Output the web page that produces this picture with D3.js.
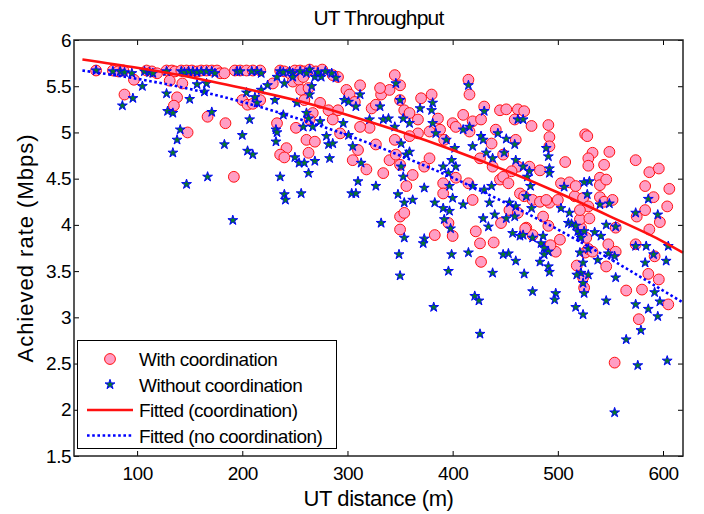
<!DOCTYPE html>
<html>
<head>
<meta charset="utf-8">
<script src="https://cdn.jsdelivr.net/npm/d3@7/dist/d3.min.js"></script>
<style>
  body { margin: 0; background: #fff; }
  svg { display: block; }
  text { font-family: "Liberation Sans", Arial, sans-serif; fill: #000; }
</style>
</head>
<body>
<svg id="chart" width="704" height="514"></svg>
<script>
// Valeurs : [distance (m), débit (Mbps)]
const withCoord = [
  // plateau haut
  [61,5.67],[77,5.67],[82,5.66],[87,5.67],[109,5.67],[114,5.66],[119,5.64],[128,5.67],[133,5.67],[136,5.66],
  [142,5.67],[147,5.67],[152,5.67],[157,5.66],[161,5.67],[166,5.67],[171,5.67],[176,5.67],[179,5.64],[183,5.64],
  [193,5.67],[198,5.67],[204,5.67],[210,5.67],[217,5.67],[236,5.67],[240,5.66],[245,5.64],[250,5.67],[255,5.67],
  // x < 255
  [88,5.41],[97,5.57],[131,5.56],[143,5.53],[138,5.38],[135,5.29],[148,5.00],[167,5.17],[184,5.10],[192,4.52],
  [200,5.35],[205,5.30],[210,5.31],[217,5.35],[233,5.10],[242,4.83],[236,4.76],[240,4.73],[229,5.53],[248,5.55],
  [254,5.57],[251,5.05],
  // 255 - 445
  [259,5.66],[264,5.68],[270,5.66],[276,5.68],[258,5.60],[256,5.46],[263,5.48],[259,5.35],[274,5.32],[267,5.21],
  [264,5.14],[282,5.24],[291,5.24],[286,5.14],[261,4.92],[269,4.90],[263,4.78],[291,5.60],[299,5.46],[302,5.41],
  [312,5.51],[307,5.33],[323,5.26],[327,5.30],[332,5.41],[340,5.46],[345,5.62],[350,5.51],[350,5.35],[354,5.24],
  [359,5.21],[367,5.14],[370,5.37],[380,5.41],[378,5.01],[386,5.15],[388,5.03],[392,4.92],[400,5.10],[403,5.06],
  [410,5.19],[416,5.01],[419,5.12],[415,5.57],[416,5.41],[427,5.14],[430,5.28],[437,4.88],[441,5.03],[445,5.24],
  [305,4.70],[327,4.87],[340,4.70],[350,4.65],[334,4.56],[346,4.76],[362,4.54],[373,4.63],[378,4.72],[391,4.45],
  [403,4.51],[415,4.45],[419,4.27],[391,4.34],[426,4.72],[438,4.63],[445,4.49],[350,4.09],[354,4.13],[356,4.42],
  [367,4.99],[359,4.96],[345,4.92],[321,5.05],[312,5.06],[293,4.99],[310,4.81],[318,4.60],[331,5.48],[286,5.62],
  [350,3.95],[383,3.89],[400,3.88],[396,4.02],[422,3.93],[426,3.80],[439,3.81],[427,3.60],
  // x > 445
  [451,5.25],[462,5.25],[468,5.23],[459,5.14],[475,5.07],[491,5.08],[492,4.95],[492,4.85],[526,4.98],[528,4.96],
  [533,4.78],[529,4.72],[529,4.64],[549,4.79],[544,4.65],[540,4.51],[507,4.68],[574,4.70],[587,4.57],[596,4.61],
  [606,4.39],[583,4.42],[591,4.30],[583,4.16],[604,4.20],[597,4.03],[575,4.09],[587,3.95],[548,3.79],[555,3.71],
  [574,3.79],[592,3.66],[586,3.47],[596,3.41],[605,3.14],[565,3.29],[580,3.30],[577,2.98],[546,3.55],[518,3.56],
  [524,3.43],[525,3.32],[526,3.70],[522,3.97],[521,4.06],[529,3.74],[502,3.84],[498,3.71],[493,3.78],[470,3.97],
  [476,3.89],[491,3.99],[492,4.24],[500,4.27],[486,4.09],[503,4.45],[511,4.46],[483,4.59],[473,4.63],[462,4.63],
  [456,4.58],[448,4.52],[453,4.45],[464,4.34],[468,4.31],[476,4.27],[483,4.25],[489,4.27],[454,4.16],[446,4.02],
  [516,4.31],[524,4.29],[529,4.20],[540,4.30],[544,4.25],[552,4.27],[555,3.97],[521,4.16],[530,4.07],[517,4.42],
  [540,4.43],[546,4.49],[533,3.71],[527,3.86],[554,2.51],[462,4.13],[469,3.96],[460,4.92],[448,4.76]
];

const withoutCoord = [
  // plateau haut
  [61,5.67],[77,5.66],[84,5.66],[88,5.65],[95,5.64],[107,5.66],[112,5.65],[115,5.64],[128,5.66],[142,5.66],
  [145,5.65],[149,5.66],[153,5.66],[157,5.65],[161,5.66],[166,5.66],[171,5.66],[174,5.64],[195,5.66],[198,5.66],
  [209,5.66],[214,5.66],[218,5.64],[236,5.66],[239,5.65],[245,5.66],[248,5.64],[255,5.66],
  // x < 255
  [86,5.29],[96,5.37],[105,5.50],[128,5.42],[129,5.23],[134,5.21],[141,5.03],[138,4.92],[134,4.78],[150,5.36],
  [147,4.44],[157,5.52],[166,5.53],[164,5.44],[167,4.52],[171,5.22],[183,4.87],[191,4.05],[200,4.97],[204,5.43],
  [205,4.80],[210,4.76],[207,5.14],[212,5.38],[214,5.32],[218,5.46],[224,5.51],[231,5.35],[232,5.03],[233,5.00],
  [232,4.90],[236,4.52],[240,4.33],[241,4.27],[239,5.19],[250,4.73],[254,4.67],[252,5.32],[233,5.60],[240,5.53],
  [248,5.60],
  // 255 - 445
  [264,5.68],[261,5.64],[269,5.60],[266,5.50],[275,5.60],[272,5.65],[279,5.66],[285,5.64],[264,5.41],[261,5.21],
  [263,5.15],[258,5.06],[267,5.06],[274,5.12],[280,4.96],[282,4.87],[286,4.88],[283,4.72],[269,4.69],[259,4.67],
  [263,4.56],[256,4.34],[289,5.59],[297,5.35],[301,5.33],[308,5.28],[312,5.41],[296,5.10],[301,4.97],[305,4.85],
  [313,4.67],[321,5.14],[331,5.28],[334,5.14],[339,5.15],[345,5.06],[350,5.35],[353,5.15],[359,5.10],[346,5.53],
  [351,4.88],[356,4.76],[359,4.79],[353,4.52],[351,4.63],[369,5.26],[381,5.32],[380,5.24],[381,5.10],[384,4.99],
  [394,4.92],[402,4.83],[399,4.70],[391,4.63],[396,4.56],[397,4.42],[403,4.63],[410,5.03],[416,5.06],[419,4.85],
  [427,4.96],[430,5.23],[419,4.42],[429,4.92],[432,4.78],[438,4.72],[443,4.99],[437,4.42],[430,4.38],[429,4.07],
  [435,4.24],[415,5.51],[327,4.42],[304,4.34],[308,4.34],[310,4.47],[348,4.33],[354,4.24],[362,4.27],[373,4.40],
  [383,4.24],[391,4.18],[397,4.15],[400,4.29],[410,4.22],[332,4.02],[392,4.06],[398,3.96],[354,3.86],[373,3.85],
  [372,3.80],[349,3.68],[350,3.45],[399,3.68],[396,3.50],[415,3.70],[434,3.98],[438,3.48],[421,3.23],[425,3.18],
  [382,3.11],[426,2.82],[440,4.11],
  // x > 445
  [462,5.14],[467,5.14],[451,4.93],[459,4.87],[449,4.78],[460,4.70],[467,4.63],[473,4.58],[471,4.52],[474,4.42],
  [489,4.83],[491,4.74],[492,4.61],[492,4.56],[470,4.31],[475,4.18],[460,4.20],[454,4.24],[451,4.07],[459,4.09],
  [457,3.91],[464,3.88],[467,3.89],[476,3.86],[484,3.80],[486,3.88],[487,3.75],[491,3.71],[487,3.68],[483,3.60],
  [491,3.55],[492,3.49],[460,3.61],[468,3.47],[476,3.28],[453,3.69],[448,3.68],[498,3.26],[497,3.19],
  [530,4.47],[525,4.46],[528,4.33],[506,4.41],[503,4.18],[511,4.13],[540,4.22],[549,4.23],[555,3.98],[546,4.00],
  [519,3.93],[521,3.89],[525,3.93],[522,3.86],[521,3.70],[524,3.59],[522,3.48],[529,3.46],[524,3.37],[525,3.26],
  [518,3.46],[538,3.62],[548,3.69],[554,3.66],[555,3.43],[546,3.18],[517,3.11],[524,3.03],[574,4.13],[574,3.77],
  [584,3.77],[591,3.68],[586,4.28],[595,4.11],[603,3.61],[583,3.59],[574,3.14],[586,3.09],[595,3.01],[592,3.27],
  [597,3.17],[579,2.86],[565,2.76],[605,3.77],[535,3.92],[541,3.88],[529,3.74],[510,4.02],[513,4.01],[517,3.99],
  [576,2.48],[604,2.53],[554,1.97]
];

// Courbes ajustées
const fitDist = [48, 100, 150, 200, 250, 300, 350, 400, 450, 500, 550, 600, 619];
const fitCoord = [5.79, 5.70, 5.60, 5.48, 5.35, 5.19, 5.01, 4.81, 4.59, 4.35, 4.09, 3.82, 3.70];
const fitNoCoord = [5.67, 5.58, 5.47, 5.33, 5.16, 4.97, 4.75, 4.51, 4.24, 3.95, 3.63, 3.29, 3.16];

const xTicks = [100, 200, 300, 400, 500, 600];
const yTicks = [1.5, 2, 2.5, 3, 3.5, 4, 4.5, 5, 5.5, 6];
const legendLabels = ["With coordination", "Without coordination", "Fitted (coordination)", "Fitted (no coordination)"];

const svg = d3.select("#chart");
const x = d3.scaleLinear().domain([40, 619]).range([74, 683]);
const y = d3.scaleLinear().domain([1.5, 6]).range([456, 40]);

const pink = "#ff9ec4", red = "#ff1010", blue = "#0000ff", green = "#0a7a2a";
const star = d3.symbol().type(d3.symbolStar).size(30);

// Axes (ticks vers l'intérieur, comme MATLAB)
svg.append("g").attr("transform", "translate(0,456)")
  .call(d3.axisBottom(x).tickValues(xTicks).tickSizeInner(-5).tickSizeOuter(0).tickPadding(11))
  .call(g => g.select(".domain").remove())
  .call(g => g.selectAll("text").style("font-size", "19px").attr("letter-spacing", "-0.5"));
svg.append("g").attr("transform", "translate(74,0)")
  .call(d3.axisLeft(y).tickValues(yTicks).tickFormat(d => String(d)).tickSizeInner(-5).tickSizeOuter(0).tickPadding(3))
  .call(g => g.select(".domain").remove())
  .call(g => g.selectAll("text").style("font-size", "19px").attr("letter-spacing", "-0.5"));
svg.append("g").attr("transform", "translate(0,40)")
  .call(d3.axisTop(x).tickValues(xTicks).tickSizeInner(-5).tickSizeOuter(0).tickFormat(""))
  .call(g => g.select(".domain").remove());
svg.append("g").attr("transform", "translate(683,0)")
  .call(d3.axisRight(y).tickValues(yTicks).tickSizeInner(-5).tickSizeOuter(0).tickFormat(""))
  .call(g => g.select(".domain").remove());

// Points
svg.append("g").selectAll("circle").data(withCoord).join("circle")
  .attr("cx", d => x(d[0])).attr("cy", d => y(d[1])).attr("r", 5.4)
  .attr("fill", pink).attr("stroke", red).attr("stroke-width", 1);
svg.append("g").selectAll("path").data(withoutCoord).join("path")
  .attr("transform", d => `translate(${x(d[0])},${y(d[1])})`).attr("d", star)
  .attr("fill", green).attr("stroke", blue).attr("stroke-width", 1);

// Courbes
const line = d3.line().x(d => x(d[0])).y(d => y(d[1])).curve(d3.curveMonotoneX);
svg.append("path").datum(d3.zip(fitDist, fitCoord)).attr("d", line)
  .attr("fill", "none").attr("stroke", red).attr("stroke-width", 2.6);
svg.append("path").datum(d3.zip(fitDist, fitNoCoord)).attr("d", line)
  .attr("fill", "none").attr("stroke", blue).attr("stroke-width", 2.6).attr("stroke-dasharray", "2.6,2.6");

// Cadre
svg.append("rect").attr("x", 74).attr("y", 40).attr("width", 609).attr("height", 416)
  .attr("fill", "none").attr("stroke", "#222").attr("stroke-width", 1.5);

// Légende
const leg = svg.append("g");
leg.append("rect").attr("x", 77.5).attr("y", 340.5).attr("width", 259).attr("height", 108)
  .attr("fill", "#fff").attr("stroke", "#000").attr("stroke-width", 1);
const rowY = [359, 384.5, 410, 435.5];
leg.append("circle").attr("cx", 110).attr("cy", rowY[0]).attr("r", 5.4)
  .attr("fill", pink).attr("stroke", red);
leg.append("path").attr("transform", `translate(110,${rowY[1]})`).attr("d", star)
  .attr("fill", green).attr("stroke", blue).attr("stroke-width", 1);
leg.append("line").attr("x1", 87).attr("x2", 133).attr("y1", rowY[2]).attr("y2", rowY[2])
  .attr("stroke", red).attr("stroke-width", 2.6);
leg.append("line").attr("x1", 87).attr("x2", 133).attr("y1", rowY[3]).attr("y2", rowY[3])
  .attr("stroke", blue).attr("stroke-width", 2.6).attr("stroke-dasharray", "2.6,2.6");
leg.selectAll("text.lab").data(legendLabels).join("text").attr("class", "lab")
  .attr("x", 139).attr("y", (d, i) => rowY[i] + 7)
  .style("font-size", "19px").attr("letter-spacing", "-0.5").text(d => d);

// Titres
svg.append("text").attr("x", 378.5).attr("y", 25).attr("text-anchor", "middle")
  .style("font-size", "21px").attr("letter-spacing", "-0.8").text("UT Throughput");
svg.append("text").attr("x", 378.5).attr("y", 506).attr("text-anchor", "middle")
  .style("font-size", "22px").attr("letter-spacing", "-0.4").text("UT distance (m)");
svg.append("text").attr("transform", "translate(33,248) rotate(-90)").attr("text-anchor", "middle")
  .style("font-size", "22px").attr("letter-spacing", "1").text("Achieved rate (Mbps)");
</script>
</body>
</html>
